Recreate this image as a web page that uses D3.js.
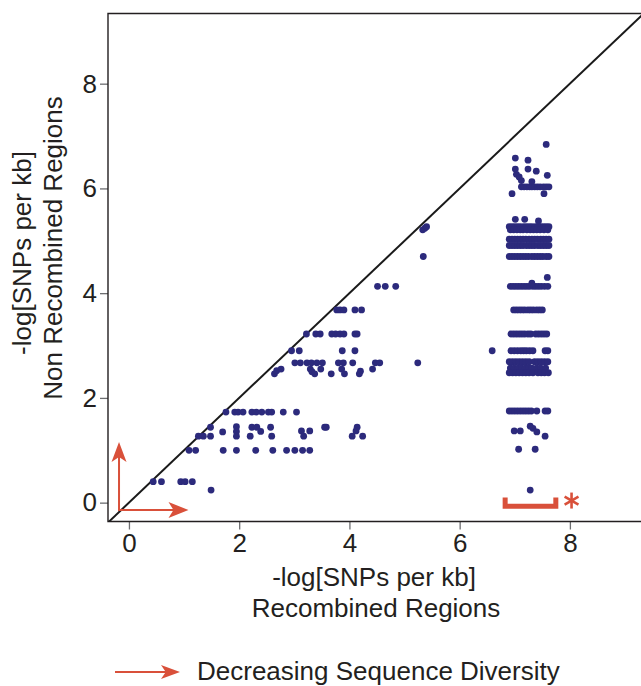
<!DOCTYPE html>
<html>
<head>
<meta charset="utf-8">
<script src="https://d3js.org/d3.v7.min.js"></script>
<style>
  body { margin: 0; background: #fff; }
  text { font-family: "Liberation Sans", Arial, Helvetica, sans-serif; fill: #231f20; }
</style>
</head>
<body>
<div id="graph"></div>
<script>
// tick values
var xTicks = [0, 2, 4, 6, 8];
var yTicks = [0, 2, 4, 6, 8];

// scattered points left of the column: [recombined, non recombined]
var leftPoints = [
  [0.44,0.40],[0.59,0.40],[0.94,0.40],[1.02,0.40],[1.15,0.40],[1.49,0.24],
  [1.09,1.00],[1.21,1.00],[1.71,1.00],[1.95,1.00],[2.30,1.00],[2.61,1.00],[2.86,1.00],[3.01,1.00],[3.15,1.00],[3.28,1.00],
  [1.26,1.27],[1.35,1.27],[1.48,1.27],[1.48,1.44],[1.70,1.35],[1.95,1.45],[1.95,1.36],[1.95,1.27],[2.20,1.27],
  [2.23,1.44],[2.32,1.44],[2.39,1.36],[2.57,1.44],[2.59,1.27],[3.13,1.37],[3.28,1.37],[3.17,1.27],
  [3.55,1.44],[3.58,1.44],[4.14,1.44],[4.12,1.37],[4.05,1.27],[4.24,1.27],
  [1.76,1.73],[1.92,1.73],[1.98,1.73],[2.07,1.73],[2.23,1.73],[2.31,1.73],[2.41,1.73],[2.53,1.73],[2.59,1.73],[2.80,1.73],[3.04,1.73],
  [2.64,2.46],[2.68,2.52],[2.76,2.55],[3.29,2.55],[3.32,2.50],[3.37,2.46],[3.48,2.55],[3.67,2.46],[3.86,2.55],[3.91,2.46],
  [4.20,2.51],[4.18,2.46],[4.42,2.55],
  [3.01,2.67],[3.11,2.67],[3.23,2.67],[3.31,2.67],[3.41,2.67],[3.51,2.67],[3.80,2.67],[3.89,2.67],[4.06,2.67],[4.47,2.67],[4.55,2.67],[5.24,2.67],
  [2.95,2.90],[3.09,2.90],[3.87,2.90],[4.10,2.90],
  [3.22,3.22],[3.39,3.22],[3.47,3.22],[3.68,3.22],[3.75,3.22],[3.83,3.22],[3.90,3.22],[4.10,3.22],[4.14,3.22],
  [3.77,3.68],[3.83,3.68],[3.90,3.68],[4.10,3.68],[4.22,3.68],
  [4.51,4.13],[4.65,4.13],[4.84,4.13],
  [5.34,4.70],[5.33,5.21],[5.37,5.24],[5.40,5.27],
  [6.59,2.90]
];

// the dense column around x = 7: rows of points sharing one y value
var columnBands = [
  {y: 6.03, x: [7.12,7.17,7.22,7.27,7.31,7.36,7.41,7.46,7.52,7.57,7.62]},
  {y: 5.27, x: [6.90,6.95,7.00,7.05,7.10,7.16,7.21,7.26,7.31,7.37,7.42,7.47,7.52,7.57,7.62]},
  {y: 5.21, x: [6.92,6.98,7.04,7.10,7.15,7.22,7.28,7.34,7.40,7.46,7.53,7.60]},
  {y: 5.03, x: [6.90,6.95,7.00,7.05,7.10,7.15,7.20,7.26,7.31,7.36,7.41,7.47,7.52,7.57,7.62]},
  {y: 4.91, x: [6.90,6.95,7.00,7.05,7.10,7.15,7.21,7.26,7.31,7.36,7.42,7.47,7.52,7.57,7.62]},
  {y: 4.70, x: [6.90,6.95,7.00,7.05,7.10,7.15,7.20,7.25,7.31,7.36,7.41,7.46,7.51,7.57,7.62]},
  {y: 4.13, x: [6.92,6.97,7.02,7.07,7.12,7.17,7.22,7.27,7.33,7.38,7.43,7.48,7.54,7.60]},
  {y: 3.68, x: [6.98,7.03,7.08,7.13,7.18,7.24,7.29,7.34,7.40,7.45,7.50]},
  {y: 3.22, x: [6.93,6.98,7.03,7.08,7.13,7.18,7.24,7.29,7.38,7.43,7.48,7.53,7.58]},
  {y: 2.90, x: [6.93,6.99,7.05,7.11,7.16,7.21,7.27,7.33,7.55,7.60]},
  {y: 2.69, x: [6.90,6.96,7.02,7.08,7.14,7.20,7.26,7.36,7.42,7.48,7.54,7.60]},
  {y: 2.57, x: [6.92,6.99,7.06,7.12,7.19,7.25,7.31,7.40,7.47,7.56]},
  {y: 2.48, x: [6.90,6.96,7.02,7.08,7.14,7.20,7.26,7.33,7.42,7.48,7.54,7.61]},
  {y: 1.75, x: [6.90,6.95,7.00,7.05,7.10,7.15,7.20,7.25,7.30,7.40,7.55,7.60]}
];
var columnSingles = [
  [7.57,6.84],[7.01,6.58],[7.24,6.54],[7.01,6.37],[7.24,6.37],[7.39,6.33],[7.59,6.25],
  [7.03,6.27],[7.08,6.22],[7.12,6.15],[7.31,6.13],
  [6.95,5.90],[7.53,5.90],[7.01,5.41],[7.18,5.41],[7.43,5.38],
  [7.59,4.30],[7.31,4.19],
  [6.99,1.37],[7.10,1.37],[7.28,1.46],[7.33,1.42],[7.40,1.35],[7.55,1.27],
  [7.07,1.02],[7.37,1.02],[7.28,0.24]
];

// bracket under the column (x range), in data units
var bracketRange = [6.78, 7.79];

var fullwidth = 641, fullheight = 686;
var plotLeft = 108, plotRight = 641, plotTop = 13.5, plotBottom = 521.5;
var dotColor = "#2c2a7c";
var red = "#d9503a";

var xScale = d3.scaleLinear().domain([-0.38, 9.29]).range([plotLeft, plotRight]);
var yScale = d3.scaleLinear().domain([-0.36, 9.34]).range([plotBottom, plotTop]);

var svg = d3.select("#graph").append("svg")
  .attr("width", fullwidth)
  .attr("height", fullheight);

svg.append("clipPath").attr("id", "plotclip")
  .append("rect")
  .attr("x", plotLeft).attr("y", plotTop)
  .attr("width", plotRight - plotLeft).attr("height", plotBottom - plotTop);

// axes
var xAxis = d3.axisBottom(xScale).tickValues(xTicks).tickSize(8).tickPadding(4).tickFormat(d3.format("d"));
var yAxis = d3.axisLeft(yScale).tickValues(yTicks).tickSize(8).tickPadding(3).tickFormat(d3.format("d"));

var gx = svg.append("g").attr("transform", "translate(0," + plotBottom + ")").call(xAxis);
var gy = svg.append("g").attr("transform", "translate(" + plotLeft + ",0)").call(yAxis);
[gx, gy].forEach(function(g) {
  g.select(".domain").remove();
  g.selectAll(".tick line").attr("stroke", "#6d6e71").attr("stroke-width", 1.3);
  g.selectAll(".tick text").style("font-size", "26px").attr("fill", "#231f20");
});

// frame (right side runs off the picture)
svg.append("path")
  .attr("d", "M" + (plotRight + 10) + "," + plotTop + "H" + plotLeft + "V" + plotBottom + "H" + (plotRight + 10))
  .attr("fill", "none")
  .attr("stroke", "#231f20")
  .attr("stroke-width", 1.4);

// y = x line
var plot = svg.append("g").attr("clip-path", "url(#plotclip)");
plot.append("line")
  .attr("x1", xScale(-1)).attr("y1", yScale(-1))
  .attr("x2", xScale(10)).attr("y2", yScale(10))
  .attr("stroke", "#1a1a1a")
  .attr("stroke-width", 2);

// points
var allPoints = leftPoints.slice();
columnBands.forEach(function(b) {
  b.x.forEach(function(v) { allPoints.push([v, b.y]); });
});
columnSingles.forEach(function(p) { allPoints.push(p); });

plot.append("g")
  .selectAll("circle")
  .data(allPoints)
  .enter().append("circle")
    .attr("cx", function(d) { return xScale(d[0]); })
    .attr("cy", function(d) { return yScale(d[1]); })
    .attr("r", 3.4)
    .attr("fill", dotColor);

// arrow head helper: tip point, direction unit vector, length, half width
function arrowHead(g, tx, ty, dx, dy, len, hw) {
  var bx = tx - dx * len, by = ty - dy * len;
  var px = -dy, py = dx;
  g.append("path")
    .attr("d", "M" + tx + "," + ty +
      "L" + (bx + px * hw) + "," + (by + py * hw) +
      "L" + (bx + dx * len * 0.25) + "," + (by + dy * len * 0.25) +
      "L" + (bx - px * hw) + "," + (by - py * hw) + "Z")
    .attr("fill", red);
}

// corner arrows
var ax = xScale(-0.18), ay = yScale(-0.14);
var upTip = yScale(1.16), rightTip = xScale(1.08);
var corner = svg.append("g");
corner.append("path")
  .attr("d", "M" + ax + "," + (upTip + 5) + "V" + ay + "H" + (rightTip - 5))
  .attr("fill", "none").attr("stroke", red).attr("stroke-width", 2);
arrowHead(corner, ax, upTip, 0, -1, 20, 7.5);
arrowHead(corner, rightTip, ay, 1, 0, 20, 8);

// bracket under the column
var by0 = yScale(0.10), by1 = yScale(-0.07);
svg.append("path")
  .attr("d", "M" + (xScale(bracketRange[0]) + 2.5) + "," + by0 + "V" + by1 +
             "H" + (xScale(bracketRange[1]) - 2.5) + "V" + by0)
  .attr("fill", "none")
  .attr("stroke", red)
  .attr("stroke-width", 5)
  .attr("stroke-linejoin", "miter");

// asterisk next to bracket
var sx = xScale(8.03), sy = yScale(0.04);
var star = svg.append("g").attr("transform", "translate(" + sx + "," + sy + ")");
[90, 30, -30].forEach(function(a) {
  var r = a * Math.PI / 180;
  star.append("line")
    .attr("x1", -8 * Math.cos(r)).attr("y1", -8 * Math.sin(r))
    .attr("x2", 8 * Math.cos(r)).attr("y2", 8 * Math.sin(r))
    .attr("stroke", red).attr("stroke-width", 2.6);
});

// axis titles
var xt = svg.append("text").attr("text-anchor", "middle").style("font-size", "26px");
xt.append("tspan").attr("x", 374).attr("y", 586).text("-log[SNPs per kb]");
xt.append("tspan").attr("x", 376).attr("y", 617).text("Recombined Regions");

var yt = svg.append("text").attr("text-anchor", "middle").style("font-size", "26px")
  .attr("transform", "rotate(-90)");
yt.append("tspan").attr("x", -253).attr("y", 31).text("-log[SNPs per kb]");
yt.append("tspan").attr("x", -248).attr("y", 62).text("Non Recombined Regions");

// legend
var lg = svg.append("g");
lg.append("line")
  .attr("x1", 115).attr("y1", 672).attr("x2", 170).attr("y2", 672)
  .attr("stroke", red).attr("stroke-width", 2);
arrowHead(lg, 180, 672, 1, 0, 19, 7);
lg.append("text")
  .attr("x", 197).attr("y", 680)
  .style("font-size", "26px")
  .text("Decreasing Sequence Diversity");
</script>
</body>
</html>
